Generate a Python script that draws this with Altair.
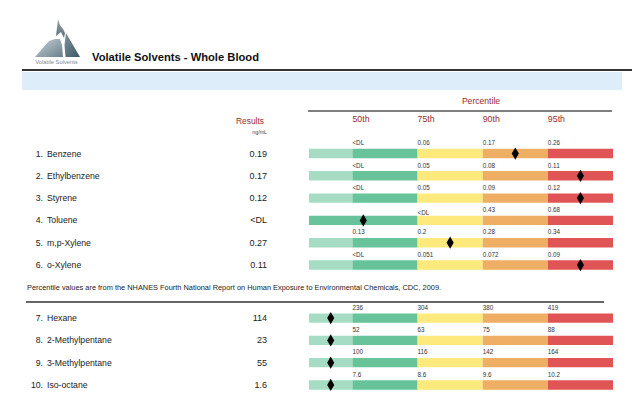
import base64
import altair as alt
import pandas as pd

# ---------------- data ----------------
names = ["Benzene", "Ethylbenzene", "Styrene", "Toluene", "m,p-Xylene", "o-Xylene",
         "Hexane", "2-Methylpentane", "3-Methylpentane", "Iso-octane"]
results = ["0.19", "0.17", "0.12", "<DL", "0.27", "0.11", "114", "23", "55", "1.6"]
p50 = ["<DL", "<DL", "<DL", None, "0.13", "<DL", "236", "52", "100", "7.6"]
p75 = ["0.06", "0.05", "0.05", "<DL", "0.2", "0.051", "304", "63", "116", "8.6"]
p90 = ["0.17", "0.08", "0.09", "0.43", "0.28", "0.072", "380", "75", "142", "9.6"]
p95 = ["0.26", "0.11", "0.12", "0.68", "0.34", "0.09", "419", "88", "164", "10.2"]
groups = [1, 1, 1, 1, 1, 1, 2, 2, 2, 2]
percentile_names = ["50th", "75th", "90th", "95th"]

# ---------------- layout / style ----------------
BOUNDS = [0, 2, 5, 8, 11, 14]           # band edges in bar units
COLORS = ["#a7dcc4", "#68c39b", "#fde97c", "#eeae63", "#e05455"]
GROUP_GAP = 1.38
DARKRED = "#9b2b2c"
TXT = "#222222"
FONT = "Liberation Sans"

XS = alt.Scale(domain=[-13.862, 14.875], nice=False, zero=False)
YS = alt.Scale(domain=[-6.525, 11.233], nice=False, zero=False, reverse=True)


def num(s):
    return 0.0 if s == "<DL" else float(s)


rows, segs, labels, marks = [], [], [], []
for i, name in enumerate(names):
    slot = i + (GROUP_GAP if groups[i] == 2 else 0)
    rows.append({"num": f"{i + 1}.", "name": name, "res": results[i], "slot": slot})
    pcts = [p50[i], p75[i], p90[i], p95[i]]
    if pcts[0] is None:
        bands = [(BOUNDS[0], BOUNDS[2], COLORS[1])] + [
            (BOUNDS[k], BOUNDS[k + 1], COLORS[k]) for k in range(2, 5)]
    else:
        bands = [(BOUNDS[k], BOUNDS[k + 1], COLORS[k]) for k in range(5)]
    for a, b, c in bands:
        segs.append({"a": a, "b": b, "color": c, "y0": slot - 0.21, "y1": slot + 0.21})
    first = True
    for k, p in enumerate(pcts):
        if p is not None:
            # the first label of a row whose 50th band is merged sits a little lower
            off = 0.33 if (pcts[0] is None and first) else 0.46
            labels.append({"x": BOUNDS[k + 1], "y": slot - off, "t": p})
            first = False
    thresholds = [num(p) for p in pcts if p is not None]
    r = float("-inf") if results[i] == "<DL" else float(results[i])
    idx = sum(1 for t in thresholds if t <= r)
    a, b, _ = bands[idx]
    marks.append({"x": (a + b) / 2, "slot": slot})

rows_df = pd.DataFrame(rows)
segs_df = pd.DataFrame(segs)
labels_df = pd.DataFrame(labels)
marks_df = pd.DataFrame(marks)
hdr_df = pd.DataFrame({"t": percentile_names, "x": BOUNDS[1:5]})
one = pd.DataFrame({"a": [0]})

# ---------------- logo ----------------
svg = """<svg xmlns='http://www.w3.org/2000/svg' viewBox='33 17 48 41' width='48' height='41'>
<defs>
<linearGradient id='g1' x1='0' y1='0' x2='1' y2='1'><stop offset='0' stop-color='#c9d3d9'/><stop offset='1' stop-color='#6a808b'/></linearGradient>
<linearGradient id='g2' x1='0' y1='0' x2='1' y2='1'><stop offset='0' stop-color='#7d929c'/><stop offset='1' stop-color='#3f5863'/></linearGradient>
<linearGradient id='g3' x1='0' y1='0' x2='0' y2='1'><stop offset='0' stop-color='#9aa7ae'/><stop offset='1' stop-color='#5d6d75'/></linearGradient>
</defs>
<polygon points='35,57 49,41 55,39 60,39 62,45 63,57' fill='url(#g1)'/>
<polygon points='66,33 80,57 65.5,57 64.5,45' fill='url(#g2)'/>
<polygon points='56,36 58,19 60,25 63,29 65,33 64,38 61,32' fill='url(#g3)'/>
</svg>"""
logo_url = "data:image/svg+xml;base64," + base64.b64encode(svg.encode()).decode()

logo = alt.Chart(pd.DataFrame({"url": [logo_url]})).mark_image(
    width=48, height=41, align="left", baseline="top"
).encode(x=alt.value(25), y=alt.value(9), url="url:N")

logo_txt = alt.Chart(one).mark_text(
    text="Volatile Solvents", font=FONT, fontSize=5.8, color="#7d8a90", align="center", baseline="middle"
).encode(x=alt.value(48.5), y=alt.value(54))

title = alt.Chart(one).mark_text(
    text="Volatile Solvents - Whole Blood", font=FONT, fontSize=11.2, fontWeight="bold",
    color="#111111", align="left", baseline="middle"
).encode(x=alt.value(84), y=alt.value(50))

title_rule = alt.Chart(one).mark_rule(color="#333333", strokeWidth=2).encode(
    x=alt.value(14), x2=alt.value(624), y=alt.value(62))

band = alt.Chart(one).mark_rect(color="#ddedf9").encode(
    x=alt.value(14), x2=alt.value(614), y=alt.value(64), y2=alt.value(82))

pct_title = alt.Chart(one).mark_text(
    text="Percentile", font=FONT, fontSize=8.6, color=DARKRED, align="center", baseline="middle"
).encode(x=alt.value(473), y=alt.value(93))

pct_rule = alt.Chart(one).mark_rule(color="#555555", strokeWidth=1.6).encode(
    x=alt.value(300), x2=alt.value(604), y=alt.value(103))

headers = alt.Chart(hdr_df).mark_text(
    font=FONT, fontSize=8.8, color=DARKRED, align="left", baseline="middle"
).encode(x=alt.X("x:Q", scale=XS, axis=None), y=alt.value(111), text="t:N")

res_title = alt.Chart(one).mark_text(
    text="Results", font=FONT, fontSize=8.4, color=DARKRED, align="right", baseline="middle"
).encode(x=alt.value(256), y=alt.value(113))

unit_txt = alt.Chart(one).mark_text(
    text="ng/mL", font=FONT, fontSize=5.3, color="#444444", align="right", baseline="middle"
).encode(x=alt.value(259), y=alt.value(124))

row_num = alt.Chart(rows_df).mark_text(
    font=FONT, fontSize=8.7, color=TXT, align="right", baseline="middle"
).encode(x=alt.value(35), y=alt.Y("slot:Q", scale=YS, axis=None), text="num:N")

row_name = alt.Chart(rows_df).mark_text(
    font=FONT, fontSize=8.7, color=TXT, align="left", baseline="middle"
).encode(x=alt.value(39), y=alt.Y("slot:Q", scale=YS, axis=None), text="name:N")

row_res = alt.Chart(rows_df).mark_text(
    font=FONT, fontSize=9, color=TXT, align="right", baseline="middle"
).encode(x=alt.value(259), y=alt.Y("slot:Q", scale=YS, axis=None), text="res:N")

bars = alt.Chart(segs_df).mark_rect().encode(
    x=alt.X("a:Q", scale=XS, axis=None), x2="b:Q",
    y=alt.Y("y0:Q", scale=YS, axis=None), y2="y1:Q",
    color=alt.Color("color:N", scale=None))

pct_labels = alt.Chart(labels_df).mark_text(
    font=FONT, fontSize=6.3, color="#333333", align="left", baseline="middle"
).encode(x=alt.X("x:Q", scale=XS, axis=None), y=alt.Y("y:Q", scale=YS, axis=None), text="t:N")

diamonds = alt.Chart(marks_df).mark_point(
    shape="M0,-1L0.58,0L0,1L-0.58,0Z", filled=True, color="black", size=150, opacity=1
).encode(x=alt.X("x:Q", scale=XS, axis=None), y=alt.Y("slot:Q", scale=YS, axis=None))

footnote = alt.Chart(one).mark_text(
    text="Percentile values are from the NHANES Fourth National Report on Human Exposure to Environmental Chemicals, CDC, 2009.",
    font=FONT, fontSize=7.4, color=TXT, align="left", baseline="middle"
).encode(x=alt.value(19), y=alt.value(280))

foot_rule = alt.Chart(one).mark_rule(color="#333333", strokeWidth=1.5).encode(
    x=alt.value(18), x2=alt.value(596), y=alt.value(294))

chart = alt.layer(
    band, title_rule, logo, logo_txt, title, pct_title, pct_rule, headers, res_title, unit_txt,
    bars, pct_labels, diamonds, row_num, row_name, row_res, footnote, foot_rule
).properties(
    width=624, height=396, padding=0, autosize=alt.AutoSizeParams(type="none")
).configure_view(stroke=None)

chart.save("out.html", embed_options={"renderer": "svg", "actions": False})
